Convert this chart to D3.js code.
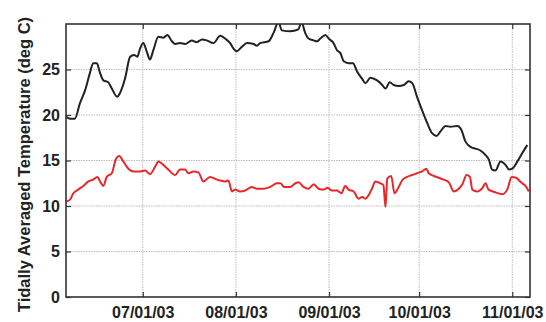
<!DOCTYPE html>
<html>
<head>
<meta charset="utf-8">
<script src="https://cdn.jsdelivr.net/npm/d3@7"></script>
<style>
  html, body { margin: 0; padding: 0; background: #fff; }
  svg { display: block; }
  text { font-family: "Liberation Sans", Arial, sans-serif; font-weight: bold; fill: #222; }
</style>
</head>
<body>
<svg id="chart" width="546" height="322"></svg>
<script>
// Sample times are days after 1 June 2003.
const seasonStart = new Date(2003, 5, 1);

// Upper (warm) record, deg C
const upperDay = [4.5, 5.8, 7.4, 9.1, 10.8, 12.4, 13.5, 14.7, 15.8, 16.9, 18.5, 19.7, 21.5, 22.4, 24.1, 25.8, 27.1, 28.2, 29.1, 30.2,
  31.3, 32.4, 33.5, 35.2, 36.9, 38.2, 39.7, 40.8, 42.4, 44.1, 46.3, 48.0, 49.7, 51.3, 53.5, 55.8, 57.4, 59.1, 60.2, 61.3,
  63.0, 64.7, 66.9, 68.0, 69.1, 71.9, 73.5, 75.2, 76.3, 79.1, 81.8, 82.8, 84.1, 85.2, 86.9, 88.0, 89.1, 90.8, 91.9, 93.5,
  94.7, 95.8, 96.9, 98.5, 100.0, 101.3, 103.0, 104.1, 105.8, 108.0, 109.7, 110.8, 112.2, 113.5, 115.2, 116.9, 118.5, 119.7, 121.3, 123.0,
  124.7, 126.3, 127.8, 129.1, 130.8, 132.4, 134.7, 136.0, 137.4, 139.1, 140.8, 142.4, 144.1, 145.2, 146.3, 147.4, 149.1, 150.8, 151.9, 153.0,
  154.7, 156.3, 158.0];
const upperTemp = [19.8, 19.6, 19.6, 21.3, 22.7, 24.6, 25.7, 25.7, 24.6, 23.8, 23.6, 22.9, 22.0, 22.4, 24.0, 26.4, 26.6, 26.4, 27.3, 27.9,
  27.0, 26.1, 27.1, 28.6, 28.5, 28.8, 28.1, 27.8, 27.9, 27.8, 28.2, 28.0, 28.3, 28.2, 27.9, 28.7, 28.4, 27.9, 27.3, 27.0,
  27.5, 27.9, 27.8, 27.6, 27.9, 28.1, 29.0, 30.2, 29.3, 29.2, 29.4, 30.2, 29.0, 28.4, 28.2, 28.1, 28.4, 28.8, 28.4, 27.9,
  27.1, 26.8, 25.9, 25.7, 25.7, 24.8, 24.0, 23.5, 24.1, 23.8, 23.3, 22.9, 23.6, 23.3, 23.2, 23.3, 23.7, 23.5, 22.0, 20.5,
  19.1, 18.0, 17.7, 18.2, 18.8, 18.7, 18.8, 18.4, 17.1, 16.5, 16.3, 16.1, 15.6, 15.1, 14.0, 13.9, 14.9, 14.5, 14.0, 14.1,
  14.9, 15.8, 16.7];

// Lower (cool) record, deg C
const lowerDay = [4.5, 5.8, 6.9, 8.5, 10.2, 11.9, 13.5, 14.9, 15.8, 16.9, 18.0, 19.7, 21.1, 22.2, 23.5, 25.2, 26.9, 29.1, 30.8, 32.4,
  34.1, 35.2, 36.9, 38.5, 40.8, 42.4, 44.1, 45.2, 46.9, 48.5, 50.2, 52.4, 54.7, 55.8, 57.4, 58.5, 59.7, 60.8, 62.4, 64.1,
  66.3, 68.0, 70.2, 72.4, 74.7, 75.8, 77.1, 79.1, 80.8, 81.9, 83.5, 85.2, 86.9, 88.5, 90.2, 91.5, 93.0, 94.7, 96.1, 97.4,
  98.5, 100.2, 101.9, 103.0, 104.1, 105.2, 106.3, 107.4, 109.1, 110.1, 110.8, 111.4, 112.7, 113.8, 115.2, 116.3, 118.0, 119.7, 121.3, 123.0,
  124.4, 125.2, 126.9, 128.5, 130.2, 131.9, 133.5, 135.2, 136.4, 137.8, 138.9, 139.7, 141.3, 143.1, 144.1, 145.1, 147.4, 149.7, 151.3, 152.8,
  154.3, 155.9, 157.4, 158.5];
const lowerTemp = [10.5, 10.7, 11.4, 11.8, 12.2, 12.7, 12.9, 13.2, 12.7, 12.2, 13.2, 13.6, 15.2, 15.5, 14.9, 14.1, 13.8, 13.8, 13.9, 13.5,
  14.3, 14.9, 14.5, 14.0, 13.4, 14.0, 14.0, 13.6, 13.8, 13.7, 12.7, 13.2, 12.9, 12.8, 12.7, 12.8, 11.6, 11.8, 11.6, 11.7,
  12.1, 11.9, 11.9, 12.1, 12.5, 12.5, 12.1, 12.1, 12.5, 12.6, 12.1, 11.9, 12.4, 11.9, 11.8, 12.0, 11.7, 11.7, 11.4, 12.2,
  11.8, 11.6, 10.8, 11.0, 10.8, 11.2, 11.9, 12.7, 12.5, 12.3, 9.9, 13.0, 13.3, 11.4, 12.1, 12.8, 13.2, 13.4, 13.6, 13.8,
  14.1, 13.6, 13.3, 13.1, 12.9, 12.6, 11.6, 11.9, 12.4, 13.4, 13.2, 11.8, 11.6, 12.0, 12.5, 11.8, 11.5, 11.3, 11.8, 13.2,
  13.1, 12.6, 12.2, 11.6];

const xTickDates = ["2003-07-01", "2003-08-01", "2003-09-01", "2003-10-01", "2003-11-01"];
const xTickLabels = ["07/01/03", "08/01/03", "09/01/03", "10/01/03", "11/01/03"];
const yTicks = [0, 5, 10, 15, 20, 25];
const yMax = 30;

const W = 546, H = 322;
const margin = { left: 66, right: 16, top: 24, bottom: 25 };
const iw = W - margin.left - margin.right;
const ih = H - margin.top - margin.bottom;

const dayToDate = d => new Date(seasonStart.getTime() + d * 864e5);
const parseDay = d3.timeParse("%Y-%m-%d");

const x = d3.scaleTime()
  .domain([dayToDate(4.45), dayToDate(158.9)])
  .range([0, iw]);
const y = d3.scaleLinear().domain([0, yMax]).range([ih, 0]);

const svg = d3.select("#chart");
const g = svg.append("g").attr("transform", `translate(${margin.left},${margin.top})`);

// clip for data lines
svg.append("defs").append("clipPath").attr("id", "plot-clip")
  .append("rect").attr("width", iw).attr("height", ih);

// dotted grid
const tickDates = xTickDates.map(parseDay);
const grid = g.append("g").attr("stroke", "#bdbdbd").attr("stroke-width", 1).attr("stroke-dasharray", "1.5,1");
grid.selectAll("line.v").data(tickDates).join("line").attr("class", "v")
  .attr("x1", d => x(d)).attr("x2", d => x(d)).attr("y1", 0).attr("y2", ih);
grid.selectAll("line.h").data(yTicks.filter(v => v > 0)).join("line").attr("class", "h")
  .attr("x1", 0).attr("x2", iw).attr("y1", d => y(d)).attr("y2", d => y(d));

// data lines
const line = d3.line().x(d => x(d[0])).y(d => y(d[1])).curve(d3.curveMonotoneX);
const upper = upperDay.map((d, i) => [dayToDate(d), upperTemp[i]]);
const lower = lowerDay.map((d, i) => [dayToDate(d), lowerTemp[i]]);
const lines = g.append("g").attr("clip-path", "url(#plot-clip)");
lines.append("path").datum(upper).attr("d", line)
  .attr("fill", "none").attr("stroke", "#222").attr("stroke-width", 2).attr("stroke-linejoin", "round");
lines.append("path").datum(lower).attr("d", line)
  .attr("fill", "none").attr("stroke", "#e8272b").attr("stroke-width", 2).attr("stroke-linejoin", "round");

// axes with inward ticks
const labelMap = new Map(tickDates.map((d, i) => [+d, xTickLabels[i]]));
const xAxis = d3.axisBottom(x).tickValues(tickDates).tickSize(-5).tickPadding(10)
  .tickFormat(d => labelMap.get(+d));
const gx = g.append("g").attr("transform", `translate(0,${ih})`).call(xAxis);
const gxTop = g.append("g").call(d3.axisTop(x).tickValues(tickDates).tickSize(-5).tickFormat(""));
const yAxis = d3.axisLeft(y).tickValues(yTicks).tickSize(-5).tickPadding(6).tickFormat(d3.format("d"));
const gy = g.append("g").call(yAxis);
const gyRight = g.append("g").attr("transform", `translate(${iw},0)`)
  .call(d3.axisRight(y).tickValues(yTicks).tickSize(-5).tickFormat(""));

[gx, gxTop, gy, gyRight].forEach(a => {
  a.select(".domain").remove();
  a.selectAll(".tick line").attr("stroke", "#333").attr("stroke-width", 1.2);
  a.selectAll("text").attr("font-size", 16).attr("font-family", null).attr("fill", "#222");
});

// frame
g.append("rect").attr("width", iw).attr("height", ih)
  .attr("fill", "none").attr("stroke", "#333").attr("stroke-width", 1.6);

// y-axis title
svg.append("text")
  .attr("transform", `translate(30,${margin.top + ih / 2 + 4}) rotate(-90)`)
  .attr("text-anchor", "middle")
  .attr("font-size", 16.5)
  .text("Tidally Averaged Temperature (deg C)");
</script>
</body>
</html>
